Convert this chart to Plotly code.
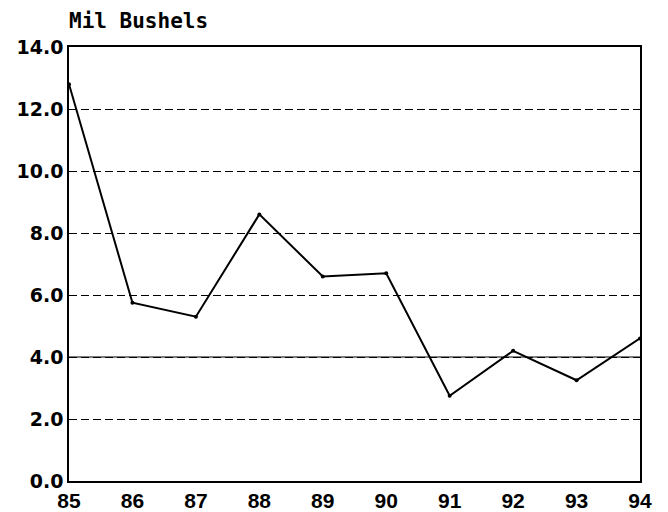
import plotly.graph_objects as go

years = [85, 86, 87, 88, 89, 90, 91, 92, 93, 94]
bushels = [12.8, 5.75, 5.3, 8.6, 6.6, 6.7, 2.75, 4.2, 3.25, 4.6]
y_ticks = [0, 2, 4, 6, 8, 10, 12, 14]
y_tick_labels = ["0.0", "2.0", "4.0", "6.0", "8.0", "10.0", "12.0", "14.0"]
x_tick_labels = [str(y) for y in years]
unit_label = "Mil Bushels"

fig = go.Figure()
fig.add_trace(go.Scatter(
    x=years, y=bushels, mode="lines+markers",
    line=dict(color="black", width=2),
    marker=dict(color="black", size=4),
    showlegend=False, hoverinfo="skip",
))

fig.add_hline(y=4.0, line=dict(color="black", width=1.2), layer="below")

# page body has an 8px margin, so the figure is 8px smaller and margins shifted
fig.update_layout(
    width=660, height=504,
    margin=dict(l=61, r=28, t=39, b=31, autoexpand=False),
    paper_bgcolor="white", plot_bgcolor="white",
    xaxis=dict(
        range=[85, 94], tickmode="array", tickvals=years, ticktext=x_tick_labels,
        showgrid=False, zeroline=False, automargin=False,
        showline=True, linecolor="black", linewidth=1.5, mirror=True,
        ticks="", ticklen=0,
        tickfont=dict(family="Liberation Sans", size=21, color="black", weight="bold"),
    ),
    yaxis=dict(
        range=[0, 14], tickmode="array", tickvals=y_ticks, ticktext=y_tick_labels,
        showgrid=True, gridcolor="black", gridwidth=1, griddash="8px,4px",
        zeroline=False, automargin=False,
        showline=True, linecolor="black", linewidth=1.5, mirror=True,
        ticks="", ticklen=0,
        tickfont=dict(family="DejaVu Sans", size=19, color="black", weight="bold"),
    ),
    annotations=[dict(
        text=unit_label, xref="paper", yref="paper", x=0, y=1,
        xanchor="left", yanchor="bottom", yshift=12, xshift=-2, showarrow=False,
        font=dict(family="DejaVu Sans Mono", size=21, color="black", weight="bold"),
    )],
)

fig.write_html("out.html")
